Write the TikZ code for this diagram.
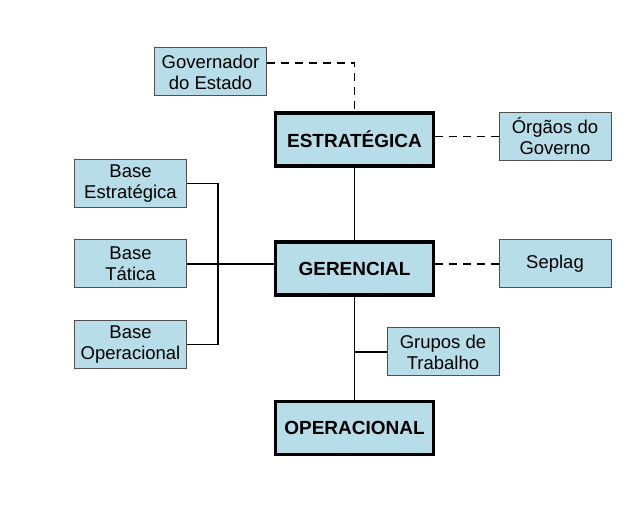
\documentclass[tikz,border=0pt]{standalone}
\usepackage{fontspec}
\setmainfont{Liberation Sans}
\definecolor{azulclaro}{RGB}{183,221,232}
\definecolor{bordacinza}{RGB}{80,80,80}
\begin{document}
\begin{tikzpicture}[x=1pt, y=-1pt,
        caixa/.style={draw=bordacinza, line width=1pt, fill=azulclaro, align=center,
            inner sep=0pt, minimum width=112pt, minimum height=48pt,
            font=\fontsize{18.5}{21}\selectfont},
        nivel/.style={draw=black, line width=3.5pt, fill=azulclaro, align=center,
            inner sep=0pt, minimum width=158pt, minimum height=53pt,
            font=\bfseries\fontsize{19}{22}\selectfont},
        linha/.style={line width=1.9pt},
        tracejada/.style={line width=1.9pt, dash pattern=on 8pt off 6pt}
    ]
        \useasboundingbox (0,0) rectangle (641,505);

        % Níveis de gestão
        \node[nivel] (estr) at (354.5,139.5) {ESTRATÉGICA};
        \node[nivel] (ger) at (354.5,268.5) {GERENCIAL};
        \node[nivel] (oper) at (354.5,428) {OPERACIONAL};

        % Caixas auxiliares
        \node[caixa] (gov) at (210.5,72) {Governador\\do Estado};
        \node[caixa] (orgaos) at (555,136.5) {Órgãos do\\Governo};
        \node[caixa] (seplag) at (555,264) {Seplag};
        \node[caixa] (grupos) at (443,352) {Grupos de\\Trabalho};
        \node[caixa] (baseE) at (130.5,183.5) {Base\\Estratégica};
        \node[caixa] (baseT) at (130.5,264) {Base\\Tática};
        \node[caixa] (baseO) at (130.5,344.5) {Base\\Operacional};

        % Ponto de junção das bases
        \coordinate (bus) at (218,264);

        % Ligações contínuas
        \draw[linha] (estr.south) -- (ger.north);
        \draw[linha] (ger.south) -- (oper.north);
        \draw[linha] (grupos.west) -- (grupos.west -| ger.south);
        \draw[linha] (baseE.east) -| (bus);
        \draw[linha] (baseO.east) -| (bus);
        \draw[linha] (baseT.east) -- (baseT.east -| ger.west);

        % Ligações tracejadas
        \draw[tracejada] ([yshift=9pt]gov.east) -| (estr.north);
        \draw[tracejada] (orgaos.west -| estr.east) -- (orgaos.west);
        \draw[tracejada] (seplag.west -| ger.east) -- (seplag.west);
    \end{tikzpicture}
\end{document}
